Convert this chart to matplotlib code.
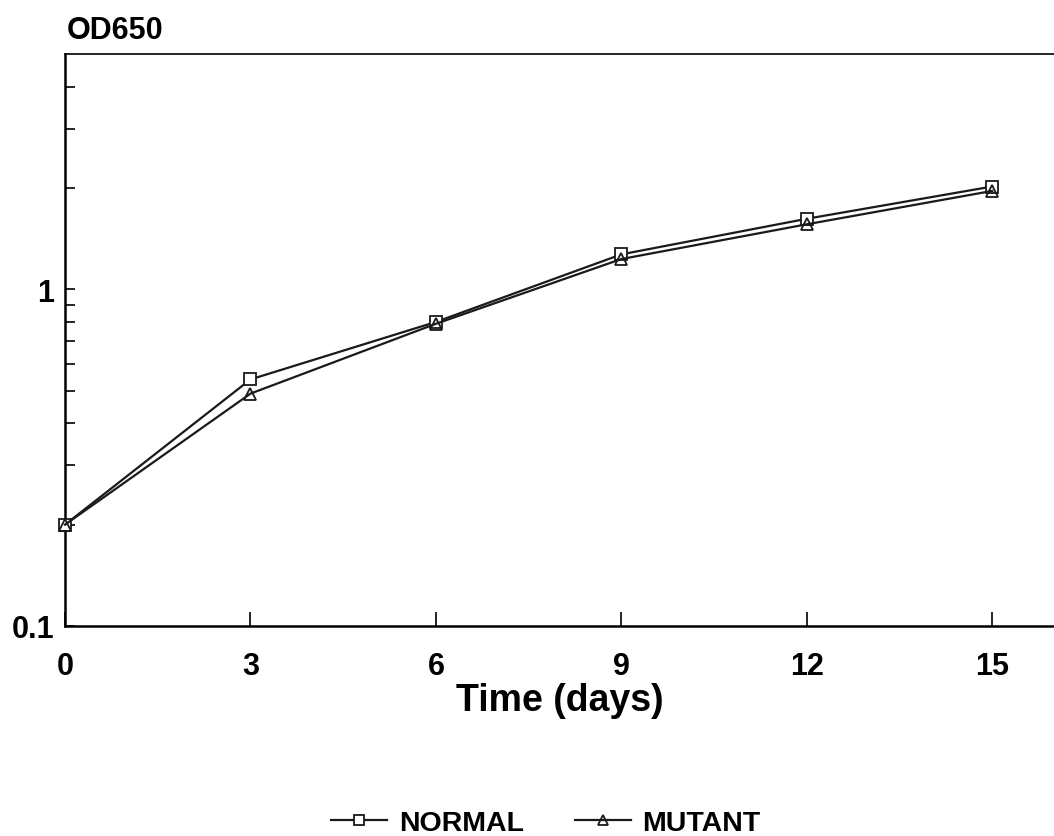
import numpy as np
import matplotlib
matplotlib.use('Agg')
import matplotlib.pyplot as plt
from matplotlib.ticker import FixedLocator, NullFormatter

plt.rcParams['font.family'] = ['Liberation Sans', 'DejaVu Sans']
plt.rcParams['font.weight'] = 'bold'

# data
days = [0, 3, 6, 9, 12, 15]
normal = [0.20, 0.54, 0.80, 1.27, 1.62, 2.02]
mutant = [0.20, 0.49, 0.79, 1.23, 1.56, 1.96]
x_ticks = [0, 3, 6, 9, 12, 15]
y_labels = {0.1: '0.1', 1: '1'}

fig = plt.figure(figsize=(10.54, 8.37), dpi=100)
ax = fig.add_axes([0.0617, 0.2509, 0.9383, 0.6834])

col = '#1a1a1a'
ax.plot(days, normal, color=col, lw=1.6, marker='s', ms=9, mfc='white',
        mec=col, mew=1.3, label='NORMAL', zorder=3, clip_on=False)
ax.plot(days, mutant, color=col, lw=1.6, marker='^', ms=9, mfc='none',
        mec=col, mew=1.3, label='MUTANT', zorder=4, clip_on=False)

ax.set_yscale('log')
ax.set_ylim(0.1, 5)
ax.set_xlim(0, 16)

ax.yaxis.set_major_locator(FixedLocator(list(y_labels.keys())))
ax.set_yticklabels(list(y_labels.values()))
minors = [0.2, 0.3, 0.4, 0.5, 0.6, 0.7, 0.8, 0.9, 2, 3, 4]
ax.yaxis.set_minor_locator(FixedLocator(minors))
ax.yaxis.set_minor_formatter(NullFormatter())

ax.set_xticks(x_ticks)
ax.tick_params(axis='both', which='both', direction='in', width=1.2)
ax.tick_params(axis='y', which='both', length=7, labelsize=22, pad=8)
ax.tick_params(axis='x', which='major', length=10, labelsize=22, pad=18)

ax.spines['right'].set_visible(False)
for s in ['left', 'bottom']:
    ax.spines[s].set_linewidth(1.8)
ax.spines['top'].set_linewidth(1.2)

ax.set_xlabel('Time (days)', fontsize=27, fontweight='bold', labelpad=1)
fig.text(0.063, 0.963, 'OD650', fontsize=22, fontweight='bold', va='center')

fig.legend(loc='center', ncol=2, frameon=False, fontsize=20.5,
           bbox_to_anchor=(0.518, 0.016), handlelength=1.95, columnspacing=1.8,
           handletextpad=0.42, markerscale=0.75, borderpad=0)

fig.savefig('out.png', dpi=100)
